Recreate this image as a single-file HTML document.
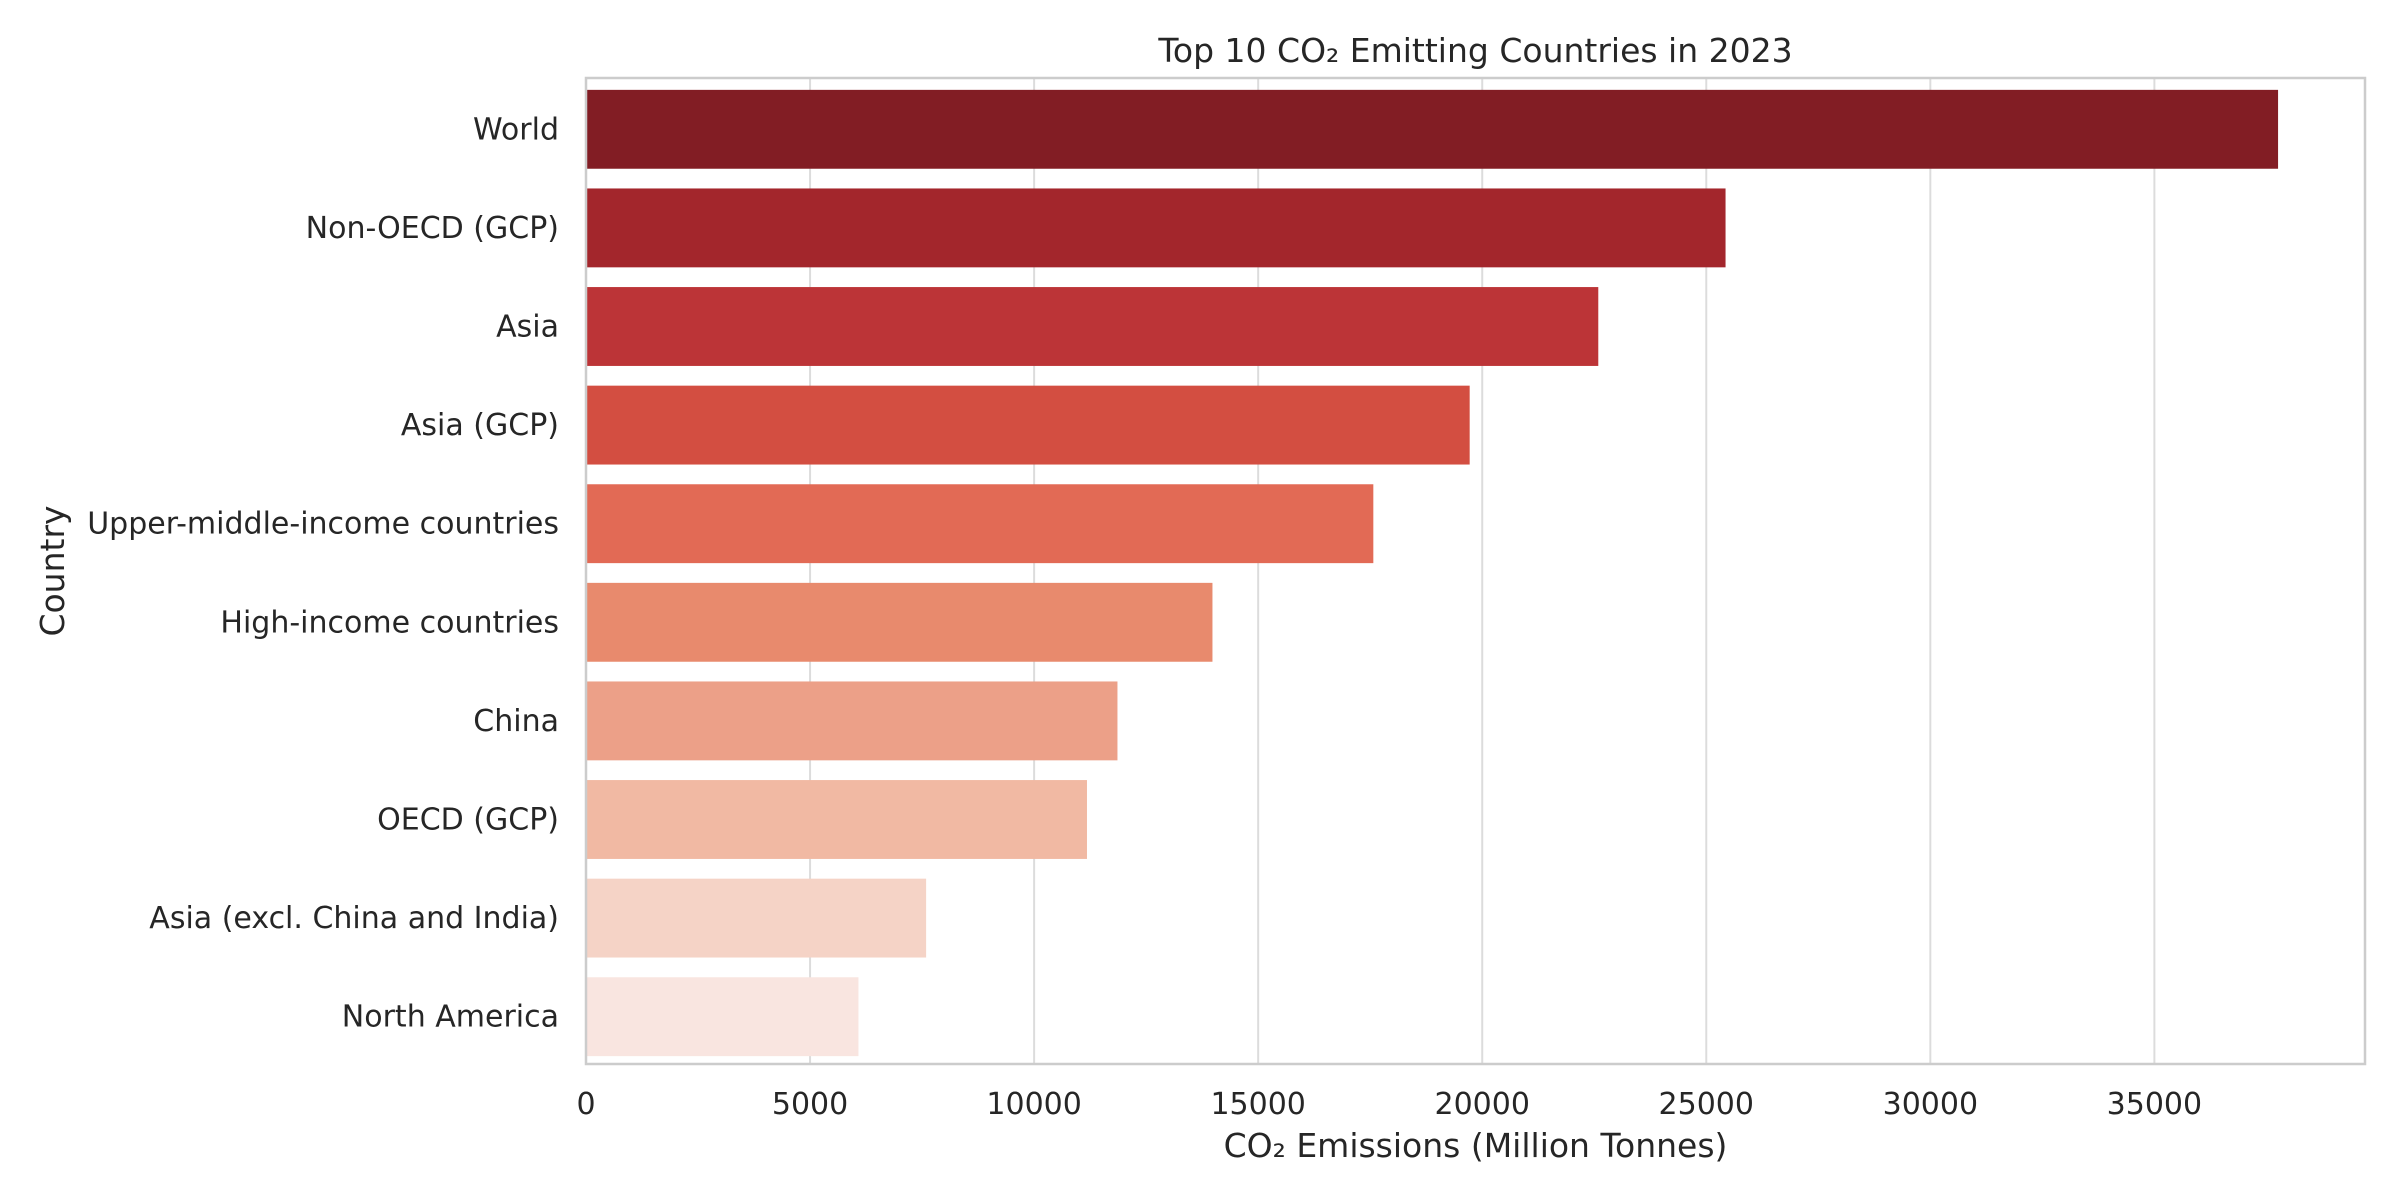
<!DOCTYPE html>
<html><head><meta charset="utf-8"><style>
html,body{margin:0;padding:0;background:#fff;}
svg{display:block;font-family:"DejaVu Sans","Liberation Sans",sans-serif;}
</style></head><body>
<svg id="chart" width="2400" height="1200" viewBox="0 0 2400 1200" xmlns="http://www.w3.org/2000/svg">
<rect width="2400" height="1200" fill="#fff"/>
<g id="grid"></g>
<g id="bars"></g>
<g id="frame"></g>
<g id="labels"></g>
</svg>
<script>
const categories = ["World","Non-OECD (GCP)","Asia","Asia (GCP)","Upper-middle-income countries","High-income countries","China","OECD (GCP)","Asia (excl. China and India)","North America"];
const values = [37760,25430,22590,19720,17570,13980,11860,11180,7590,6080];
const colors = ["#821d24","#a3262c","#bc3437","#d34e41","#e26a55","#e88a6d","#eca088","#f1b9a3","#f5d3c6","#f9e5e0"];
const xTicks = [0,5000,10000,15000,20000,25000,30000,35000];
const xMax = 39700;

const L=586, R=2365, T=78, B=1064;
const NS="http://www.w3.org/2000/svg";
const x = v => L + v/xMax*(R-L);
const band = (B-T)/categories.length;
const y = i => T + band*i;
function mk(tag, attrs, parent, text){
  const e=document.createElementNS(NS,tag);
  for(const k in attrs) e.setAttribute(k,attrs[k]);
  if(text!==undefined) e.textContent=text;
  parent.appendChild(e); return e;
}
const grid=document.getElementById('grid'), bars=document.getElementById('bars'), frame=document.getElementById('frame'), labels=document.getElementById('labels');
xTicks.forEach(t=>{
  const g=mk('line',{x1:x(t),x2:x(t),y1:T,y2:B,stroke:'#dcdcdc','stroke-width':2},grid);
  
  
  const tl=mk('text',{x:x(t),y:B+50,'text-anchor':'middle','font-size':30,fill:'#262626'},labels,String(t));
  
  
});
categories.forEach((c,i)=>{
  const bw=band*0.8;
  const r=mk('rect',{x:x(0),y:y(i)+band*0.1+2,width:x(values[i])-x(0),height:bw,fill:colors[i]},bars);
  
  
  const tl=mk('text',{x:L-27,y:y(i)+band/2+12,'text-anchor':'end','font-size':30,fill:'#262626'},labels,c);
  
  
});
const f=mk('rect',{x:L,y:T,width:R-L,height:B-T,fill:'none',stroke:'#cccccc','stroke-width':2.5},frame);


const title=mk('text',{x:(L+R)/2,y:62,'text-anchor':'middle','font-size':33,fill:'#262626'},labels,'Top 10 CO₂ Emitting Countries in 2023');


const xl=mk('text',{x:(L+R)/2,y:1157,'text-anchor':'middle','font-size':33,fill:'#262626'},labels,'CO₂ Emissions (Million Tonnes)');


const yl=mk('text',{x:0,y:0,'text-anchor':'middle','font-size':33,fill:'#262626',transform:'translate(64,571) rotate(-90)'},labels,'Country');


</script>
</body></html>
